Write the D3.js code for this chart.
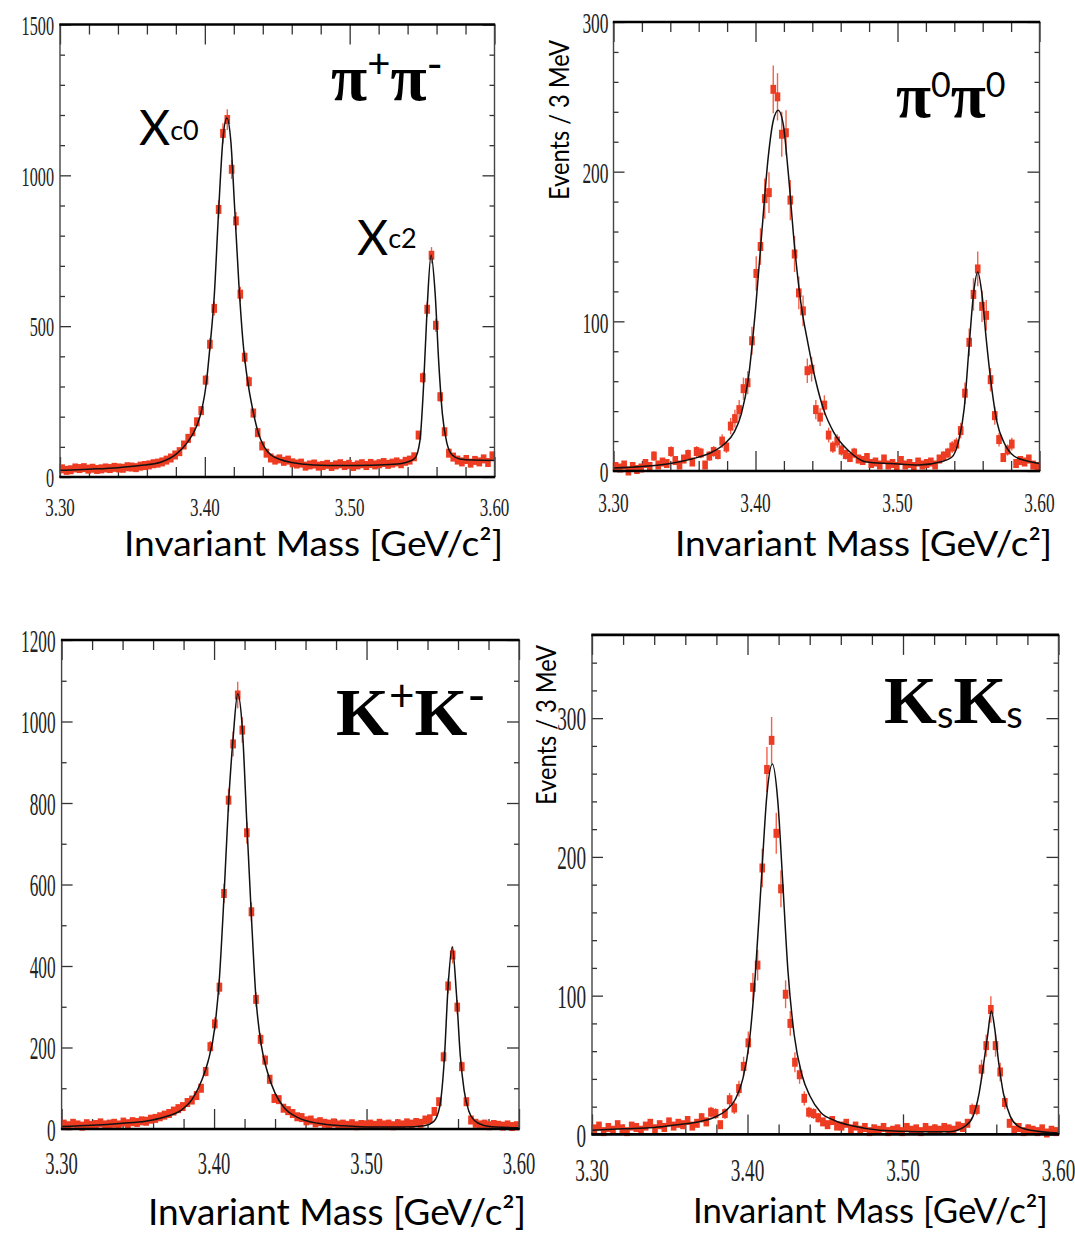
<!DOCTYPE html>
<html><head><meta charset="utf-8">
<script src="https://cdn.jsdelivr.net/npm/d3@7"></script>
<style>body{margin:0;background:#fff}svg{display:block}</style>
</head><body>
<svg id="c" width="1075" height="1234"></svg>
<script>
// ---------- DATA ----------
const xTicks = [3.30, 3.40, 3.50, 3.60];
const xTickLabels = ["3.30", "3.40", "3.50", "3.60"];
// histogram: 100 bins of 3 MeV between 3.30 and 3.60 GeV/c^2
const binWidth = 0.003;
const binCenters = d3.range(100).map(i => 3.30 + binWidth * (i + 0.5));

const pipiYTicks = [0, 500, 1000, 1500];
const pipiCounts = [27,22,24,30,28,31,26,29,25,27, 30,28,32,30,29,34,33,31,36,38,
  40,44,46,50,56,63,73,84,106,128, 150,183,220,321,440,559,887,1139,1185,1020,
  849,606,397,316,212,147,103,79,63,56, 60,52,56,47,43,46,36,40,43,36,
  38,42,35,40,44,38,42,35,40,44, 38,45,40,44,48,42,46,50,44,52,
  56,67,139,329,556,735,503,266,150,79, 66,56,50,58,46,55,50,60,48,70];
const pipiFitX = [3.300,3.320,3.340,3.355,3.370,3.380,3.388,3.394,3.398,3.401,3.4035,3.4065,3.4095,3.4125,3.4152,3.418,3.4205,3.4235,3.4265,3.4295,3.433,3.437,3.441,3.446,3.452,3.460,3.475,3.495,3.515,3.530,3.540,3.545,3.5485,3.551,3.5535,3.5562,3.559,3.5615,3.564,3.567,3.571,3.576,3.585,3.600];
const pipiFitY = [22,26,31,38,50,75,115,165,225,310,430,600,880,1120,1190,1110,900,640,440,320,225,145,100,72,58,48,40,38,39,42,50,62,120,300,560,735,610,380,210,115,72,60,56,55];

const pi0YTicks = [0, 100, 200, 300];
const pi0Counts = [3,2,4,0,3,1,2,5,3,10, 4,6,5,13,7,4,8,11,6,13,
  12,4,10,13,11,20,16,30,35,41, 55,59,87,132,150,182,186,255,250,225,
  226,181,145,119,107,67,68,41,36,44, 24,16,20,14,11,9,12,8,7,9,
  5,6,4,8,4,5,3,7,4,5, 3,6,4,5,6,4,8,10,12,16,
  18,27,52,86,118,135,110,104,61,37, 21,9,14,18,5,7,6,8,4,3];
const pi0FitX = [3.300,3.320,3.340,3.355,3.368,3.378,3.385,3.390,3.395,3.400,3.4045,3.409,3.4125,3.416,3.4195,3.423,3.4275,3.432,3.437,3.442,3.448,3.455,3.465,3.478,3.495,3.515,3.530,3.538,3.543,3.547,3.5505,3.5535,3.5565,3.5595,3.5625,3.566,3.570,3.575,3.582,3.590,3.600];
const pi0FitY = [2,3,5,8,12,18,26,38,62,108,160,210,234,241,232,200,150,112,85,62,41,26,14,6,5,4,6,9,20,42,84,118,133,118,88,58,33,19,10,7,5];

const kkYTicks = [0, 200, 400, 600, 800, 1000, 1200];
const kkCounts = [12,8,14,10,7,13,9,11,15,10, 12,14,10,17,13,18,16,20,19,24,
  26,30,34,38,44,50,55,65,71,82, 100,141,202,258,348,578,807,945,1065,979,
  727,533,318,220,169,122,75,72,51,45, 38,30,28,20,22,15,18,14,12,15,
  10,12,9,13,8,11,10,12,9,14, 10,12,8,13,10,15,12,16,14,22,
  25,43,67,177,351,427,299,153,67,22, 14,10,12,8,11,9,7,10,6,8];
const kkFitX = [3.300,3.320,3.340,3.355,3.368,3.378,3.386,3.392,3.396,3.4005,3.4035,3.4065,3.4095,3.4125,3.4155,3.4185,3.4215,3.4245,3.4275,3.431,3.435,3.440,3.446,3.455,3.468,3.485,3.505,3.525,3.538,3.544,3.548,3.551,3.5535,3.5562,3.559,3.5615,3.564,3.567,3.571,3.576,3.585,3.600];
const kkFitY = [6,9,14,19,30,45,75,120,165,250,370,570,800,960,1068,985,750,520,320,205,140,88,52,28,14,8,5,5,8,18,55,170,350,447,330,180,95,45,20,10,5,3];

const ksYTicks = [0, 100, 200, 300];
const ksCounts = [4,6,2,5,3,7,4,2,6,5, 3,6,8,4,7,5,9,6,8,7,
  10,6,8,12,9,16,15,7,15,25, 19,33,49,66,106,122,192,263,284,217,
  177,101,80,52,43,26,16,15,12,9, 7,10,6,6,8,4,6,3,5,2,
  4,3,5,2,3,4,2,5,3,4, 2,5,3,4,3,5,4,3,6,5,
  8,18,18,47,64,90,64,45,23,8, 3,5,2,4,3,2,4,1,3,2];
const ksFitX = [3.300,3.320,3.340,3.355,3.368,3.378,3.386,3.392,3.397,3.401,3.405,3.409,3.4125,3.416,3.4195,3.4225,3.426,3.430,3.435,3.440,3.447,3.456,3.468,3.485,3.510,3.530,3.540,3.545,3.549,3.552,3.5545,3.5568,3.559,3.5615,3.5645,3.569,3.574,3.582,3.600];
const ksFitY = [3,4,5,7,9,12,17,25,40,65,115,185,245,267,240,185,118,72,43,28,16,10,6,3,2,2,6,13,30,52,72,89,76,52,30,13,6,3,1];

const xTitle = "Invariant Mass [GeV/c²]";
const yTitle = "Events / 3 MeV";

// ---------- LAYOUT ----------
const panels = [
  {id:"pp", counts:pipiCounts, fitX:pipiFitX, fitY:pipiFitY, yTicks:pipiYTicks, yMax:1500, yMinor:100,
   x0:60, x1:494.5, yb:477, yt:24.5,
   yFont:27, ySx:0.6, yPad:6, xFont:25, xSx:0.68, xOff:30.5,
   xt:{x:124, y:556, len:379, fs:34}, yt2:null},
  {id:"p0", counts:pi0Counts, fitX:pi0FitX, fitY:pi0FitY, yTicks:pi0YTicks, yMax:300, yMinor:20,
   x0:613.5, x1:1039.5, yb:471, yt:22,
   yFont:30, ySx:0.58, yPad:5, xFont:28, xSx:0.62, xOff:31.5,
   xt:{x:675, y:556, len:377, fs:35}, yt2:{x:569, y:120, len:160, fs:26}},
  {id:"kk", counts:kkCounts, fitX:kkFitX, fitY:kkFitY, yTicks:kkYTicks, yMax:1200, yMinor:100,
   x0:61.6, x1:519, yb:1129, yt:640,
   yFont:32, ySx:0.54, yPad:6, xFont:32, xSx:0.58, xOff:34,
   xt:{x:148, y:1225, len:378, fs:36}, yt2:null},
  {id:"ks", counts:ksCounts, fitX:ksFitX, fitY:ksFitY, yTicks:ksYTicks, yMax:360, yMinor:20,
   x0:592, x1:1058.5, yb:1134.4, yt:634.9,
   yFont:33, ySx:0.58, yPad:6, xFont:31, xSx:0.62, xOff:36,
   xt:{x:693, y:1223, len:355, fs:34}, yt2:{x:556, y:725, len:160, fs:26}}
];

const svg = d3.select("#c");
const SANS = "Lato, 'Noto Sans', sans-serif";
const SERIF = "'Liberation Serif', 'DejaVu Serif', serif";
const RED = "#ee3c22", RED_ERR = "#f2634c";

function drawPanel(p) {
  const x = d3.scaleLinear().domain([3.30, 3.60]).range([p.x0, p.x1]);
  const y = d3.scaleLinear().domain([0, p.yMax]).range([p.yb, p.yt]);
  const g = svg.append("g").attr("class", "panel-" + p.id);

  const xMinor = d3.range(0, 16).map(i => 3.30 + 0.02 * i)
    .filter(v => Math.abs(v * 10 - Math.round(v * 10)) > 1e-6);
  const yMinor = d3.range(0, p.yMax + 1e-9, p.yMinor).filter(v => !p.yTicks.includes(v));

  const tickStyle = sel => {
    sel.select(".domain").remove();
    sel.selectAll("line").attr("stroke", "#333").attr("stroke-width", 1.3);
    sel.selectAll("text").remove();
  };
  // bottom & top ticks (inward)
  g.append("g").attr("transform", `translate(0,${p.yb})`)
    .call(d3.axisBottom(x).tickValues(xTicks).tickSize(-20)).call(tickStyle);
  g.append("g").attr("transform", `translate(0,${p.yb})`)
    .call(d3.axisBottom(x).tickValues(xMinor).tickSize(-10)).call(tickStyle);
  g.append("g").attr("transform", `translate(0,${p.yt})`)
    .call(d3.axisTop(x).tickValues(xTicks).tickSize(-20)).call(tickStyle);
  g.append("g").attr("transform", `translate(0,${p.yt})`)
    .call(d3.axisTop(x).tickValues(xMinor).tickSize(-10)).call(tickStyle);
  // left & right ticks
  g.append("g").attr("transform", `translate(${p.x0},0)`)
    .call(d3.axisLeft(y).tickValues(p.yTicks).tickSize(-11)).call(tickStyle);
  g.append("g").attr("transform", `translate(${p.x0},0)`)
    .call(d3.axisLeft(y).tickValues(yMinor).tickSize(-5)).call(tickStyle);
  g.append("g").attr("transform", `translate(${p.x1},0)`)
    .call(d3.axisRight(y).tickValues(p.yTicks).tickSize(-12)).call(tickStyle);
  g.append("g").attr("transform", `translate(${p.x1},0)`)
    .call(d3.axisRight(y).tickValues(yMinor).tickSize(-5)).call(tickStyle);

  // tick labels (condensed serif)
  g.append("g").selectAll("text").data(xTicks).join("text")
    .attr("transform", (d) => `translate(${x(d)},${p.yb + p.xOff}) scale(${p.xSx},1)`)
    .attr("text-anchor", "middle").attr("dy", "0.34em")
    .attr("font-family", SERIF).attr("font-size", p.xFont).attr("fill", "#222")
    .text((d, i) => xTickLabels[i]);
  g.append("g").selectAll("text").data(p.yTicks).join("text")
    .attr("transform", d => `translate(${p.x0 - p.yPad},${y(d) + 1}) scale(${p.ySx},1)`)
    .attr("text-anchor", "end").attr("dy", "0.34em")
    .attr("font-family", SERIF).attr("font-size", p.yFont).attr("fill", "#222")
    .text(d => d);

  // data: error bars + markers
  const pts = binCenters.map((c, i) => ({m: c, v: p.counts[i]}));
  g.append("g").selectAll("line").data(pts).join("line")
    .attr("x1", d => x(d.m)).attr("x2", d => x(d.m))
    .attr("y1", d => y(d.v + Math.sqrt(d.v))).attr("y2", d => y(Math.max(0, d.v - Math.sqrt(d.v))))
    .attr("stroke", RED_ERR).attr("stroke-width", 1.4);
  g.append("g").selectAll("rect").data(pts).join("rect")
    .attr("x", d => x(d.m) - 2.8).attr("y", d => y(d.v) - 4.5)
    .attr("width", 5.6).attr("height", 9).attr("fill", RED);

  // fit curve
  const line = d3.line().x(d => x(d[0])).y(d => y(d[1])).curve(d3.curveMonotoneX);
  g.append("path").datum(p.fitX.map((v, i) => [v, p.fitY[i]]))
    .attr("d", line).attr("fill", "none").attr("stroke", "#111").attr("stroke-width", 1.5);

  // frame
  g.append("line").attr("x1", p.x0).attr("x2", p.x0).attr("y1", p.yt).attr("y2", p.yb)
    .attr("stroke", "#444").attr("stroke-width", 1.4);
  g.append("line").attr("x1", p.x1).attr("x2", p.x1).attr("y1", p.yt).attr("y2", p.yb)
    .attr("stroke", "#444").attr("stroke-width", 1.4);
  g.append("line").attr("x1", p.x0 - 0.7).attr("x2", p.x1 + 0.7).attr("y1", p.yt).attr("y2", p.yt)
    .attr("stroke", "#000").attr("stroke-width", 2.6);
  g.append("line").attr("x1", p.x0 - 0.7).attr("x2", p.x1 + 0.7).attr("y1", p.yb).attr("y2", p.yb)
    .attr("stroke", "#000").attr("stroke-width", 2.6);

  // axis titles
  g.append("text").attr("x", p.xt.x).attr("y", p.xt.y)
    .attr("font-family", SANS).attr("font-size", p.xt.fs).attr("fill", "#000")
    .attr("textLength", p.xt.len).attr("lengthAdjust", "spacingAndGlyphs")
    .text(xTitle);
  if (p.yt2) {
    g.append("text").attr("transform", `translate(${p.yt2.x},${p.yt2.y}) rotate(-90)`)
      .attr("text-anchor", "middle")
      .attr("font-family", SANS).attr("font-size", p.yt2.fs).attr("fill", "#000")
      .attr("textLength", p.yt2.len).attr("lengthAdjust", "spacingAndGlyphs")
      .text(yTitle);
  }
}
panels.forEach(drawPanel);

// ---------- in-plot labels ----------
function addTitle(x, y, parts) {
  const t = svg.append("text").attr("x", x).attr("y", y).attr("fill", "#000");
  parts.forEach(pt => {
    t.append("tspan").attr("font-family", pt.f).attr("font-size", pt.s)
      .attr("font-weight", pt.w || "normal").attr("dy", pt.dy || 0).text(pt.t);
  });
}
// π+π-
addTitle(331, 100, [
  {t:"π", f:SERIF, s:66, w:"bold"}, {t:"+", f:SANS, s:40, dy:-22},
  {t:"π", f:SERIF, s:66, w:"bold", dy:22}, {t:"-", f:SANS, s:44, dy:-20}]);
// π0π0
addTitle(896, 117, [
  {t:"π", f:SERIF, s:64, w:"bold"}, {t:"0", f:SANS, s:34, dy:-20},
  {t:"π", f:SERIF, s:64, w:"bold", dy:20}, {t:"0", f:SANS, s:34, dy:-20}]);
// K+K-
addTitle(336, 735, [
  {t:"K", f:SERIF, s:68, w:"bold"}, {t:"+", f:SANS, s:44, dy:-24},
  {t:"K", f:SERIF, s:68, w:"bold", dy:24}, {t:"-", f:SANS, s:50, dy:-22}]);
// KsKs
addTitle(884, 723, [
  {t:"K", f:SERIF, s:68, w:"bold"}, {t:"s", f:SANS, s:38, dy:5},
  {t:"K", f:SERIF, s:68, w:"bold", dy:-5}, {t:"s", f:SANS, s:38, dy:5}]);
// chi_c0, chi_c2
addTitle(139, 145, [{t:"Χ", f:SANS, s:48}, {t:"c0", f:SANS, s:27, dy:-5}]);
addTitle(357, 255, [{t:"Χ", f:SANS, s:48}, {t:"c2", f:SANS, s:27, dy:-7}]);
</script>
</body></html>
